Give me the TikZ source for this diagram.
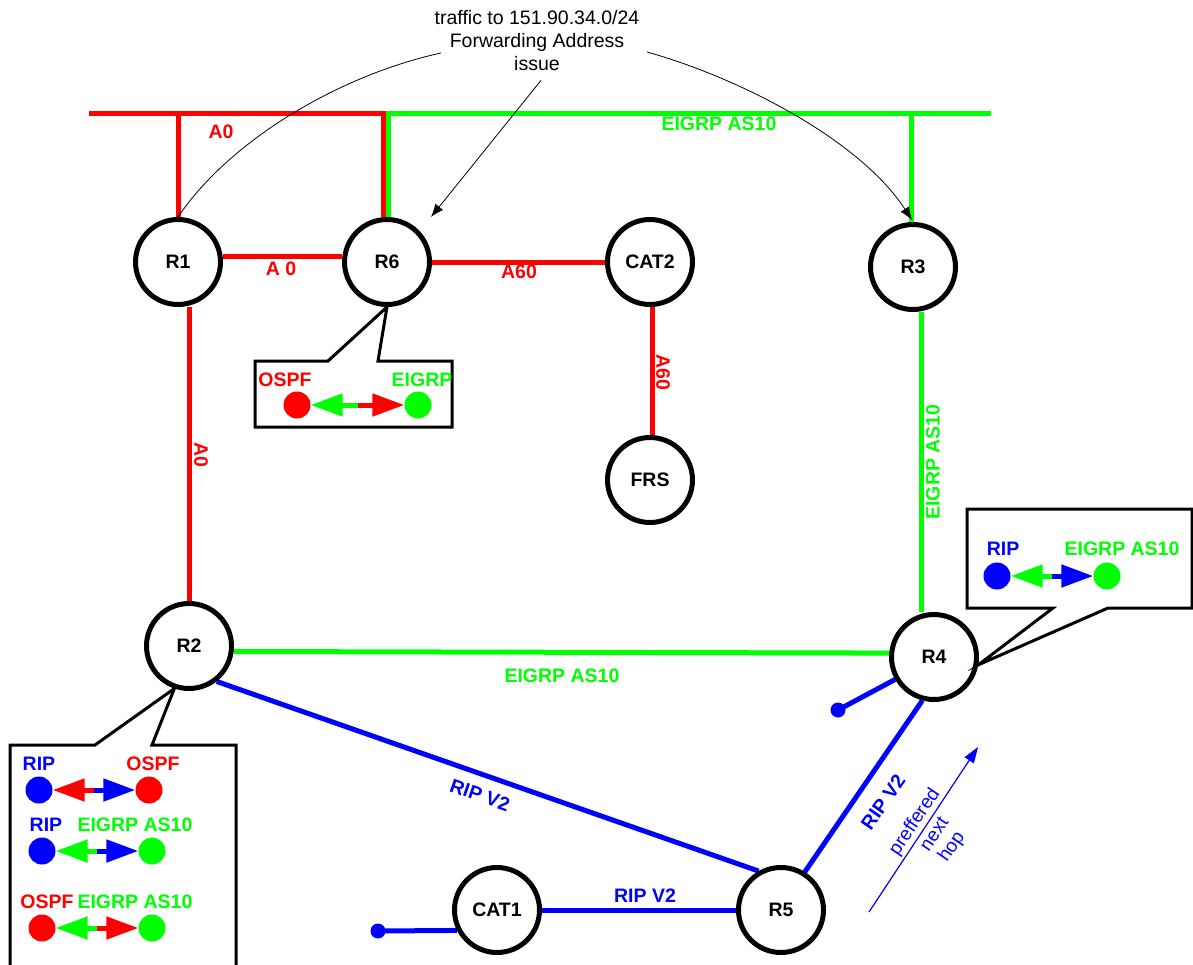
\documentclass[tikz,border=0pt]{standalone}
\usepackage{fontspec}
\setmainfont{Liberation Sans}
\usetikzlibrary{arrows.meta,calc}
\pgfdeclarelayer{background}
\pgfsetlayers{background,main}
\definecolor{cred}{RGB}{255,0,0}
\definecolor{cgreen}{RGB}{0,255,0}
\definecolor{cblue}{RGB}{0,0,255}
\newcommand\redistpair[5]{%
  \node[dotnode, fill=#4] (#1L) at #2 {};
  \node[dotnode, fill=#5] (#1R) at #3 {};
  \coordinate (#1M) at ($(#1L)!0.5!(#1R)$);
  \draw[redarr, #5] (#1M) -- (#1L);
  \draw[redarr, #4] (#1M) -- (#1R);
}
\begin{document}
\begin{tikzpicture}[x=1pt,y=-1pt,
  router/.style={circle, draw=black, line width=5pt, fill=white, minimum size=85pt, inner sep=0pt, font=\fontsize{19.5}{23}\selectfont\bfseries},
  lbl/.style={font=\fontsize{19.5}{23}\selectfont\bfseries, inner sep=0pt},
  link/.style={line width=5pt},
  dotnode/.style={circle, draw=none, minimum size=27pt, inner sep=0pt},
  stubdot/.style={circle, draw=none, fill=cblue, minimum size=15pt, inner sep=0pt},
  redarr/.style={line width=5pt, -{Triangle[length=32pt,width=22pt]}},
  callout/.style={draw=black, line width=3pt, fill=white, line join=miter},
  note/.style={black, line width=0.8pt},
  hoptext/.style={cblue, rotate=56, inner sep=0pt, font=\fontsize{19}{22.5}\selectfont},
]
\useasboundingbox (0,0) rectangle (1193,964);

% routers
\node[router] (R1) at (178,262) {R1};
\node[router] (R6) at (387,262) {R6};
\node[router] (CAT2) at (650,262) {CAT2};
\node[router] (R3) at (913,267) {R3};
\node[router] (FRS) at (650,480) {FRS};
\node[router] (R2) at (189,646) {R2};
\node[router] (R4) at (934,657) {R4};
\node[router] (CAT1) at (497,910) {CAT1};
\node[router] (R5) at (781,910) {R5};

% helper coordinates
\coordinate (busL) at (89,113);
\coordinate (busR) at (991,113);
\coordinate (r6red) at ($(R6.north)+(-3.5,0)$);
\coordinate (r6grn) at ($(R6.north)+(1.5,0)$);
\coordinate (r3top) at ($(R3.north)+(-2,0)$);
\coordinate (r3bot) at (921,0);
\coordinate (d4c) at (838,710);
\coordinate (dc1) at (378,931);
\node[stubdot] (D4) at (d4c) {};
\node[stubdot] (DC1) at (dc1) {};

\begin{pgfonlayer}{background}
  \fill[white] (0,0) rectangle (1193,964);
  % top bus
  \draw[link, cred, line join=miter] (busL) -- (busL -| r6red) -- (r6red);
  \draw[link, cgreen, line join=miter] (busR) -- (busR -| r6grn) -- (r6grn);
  \draw[link, cred] (R1.north |- busL) -- (R1.north);
  \draw[link, cgreen] (r3top |- busR) -- (r3top);
  % OSPF links
  \draw[link, cred] (R1.7) -- (R6.173);
  \draw[link, cred] (R6.east) -- (CAT2.west);
  \draw[link, cred] ($(CAT2.south)+(2,0)$) -- ($(FRS.north)+(2,0)$);
  \draw[link, cred] (R2.north) -- (R2.north |- R1.south);
  % EIGRP links
  \draw[link, cgreen] (r3bot |- R3.south) -- (r3bot |- R4.north);
  \draw[link, cgreen] (R2.-7) -- (R4.175);
  % RIP links
  \draw[link, cblue] (R2.-52) -- (R5.120);
  \draw[link, cblue] (R4.-105) -- (R5.58);
  \draw[link, cblue] (CAT1.east) -- (R5.west);
  \draw[link, cblue] (DC1.center) -- (CAT1.207);
  \draw[link, cblue] (D4.center) -- (R4.210);
\end{pgfonlayer}

% link labels
\node[lbl, text=cred] at (221,132) {A0};
\node[lbl, text=cgreen] at (719,124) {EIGRP AS10};
\node[lbl, text=cred] at (281,269) {A 0};
\node[lbl, text=cred] at (519,272) {A60};
\node[lbl, text=cred, rotate=-90] at (663,372) {A60};
\node[lbl, text=cred, rotate=-90] at (201,455) {A0};
\node[lbl, text=cgreen, rotate=90] at (933,462) {EIGRP AS10};
\node[lbl, text=cgreen] at (562,676) {EIGRP AS10};
\node[lbl, text=cblue, rotate=-19.3] at (480,795) {RIP V2};
\node[lbl, text=cblue, rotate=55] at (883,802) {RIP V2};
\node[lbl, text=cblue] at (645,896) {RIP V2};

% preferred next hop
\coordinate (nh1) at (869,912);
\coordinate (nh2) at (978,747);
\draw[cblue, line width=1.2pt, -{Triangle[length=16pt,width=11pt]}] (nh1) -- (nh2);
\node[hoptext] at (915,822) {preffered};
\node[hoptext] at (934,834) {next};
\node[hoptext] at (952,847) {hop};

% annotation
\node[align=center, inner sep=5pt, font=\fontsize{19.5}{23}\selectfont] (note) at (537,41) {traffic to 151.90.34.0/24\\Forwarding Address\\issue};
\coordinate (c1s) at (441,53);
\coordinate (c2s) at (647,52);
\coordinate (a6) at (431,217);
\draw[note] (c1s) .. controls (340,75) and (230,140) .. (R1.north);
\draw[note, -{Latex[length=13pt,width=10pt]}] (c2s) .. controls (740,78) and (860,140) .. ($(R3.north)+(-1,-2)$);
\draw[note, -{Latex[length=13pt,width=10pt]}] ($(note.south)+(4,4)$) -- (a6);

% R6 callout
\draw[callout] (R6.south) -- (378,361) -- (452,361) -- (452,427) -- (255,427) -- (255,361) -- (328,361) -- cycle;
\node[lbl, text=cred] at (285,380) {OSPF};
\node[lbl, text=cgreen] at (422,380) {EIGRP};
\redistpair{a}{(297,405)}{(418,405)}{cred}{cgreen}

% R4 callout
\draw[callout] (R4.-10) -- (1108,608) -- (1192,608) -- (1192,509) -- (967,509) -- (967,608) -- (1053,608) -- cycle;
\node[lbl, text=cblue] at (1003,549) {RIP};
\node[lbl, text=cgreen] at (1122,549) {EIGRP AS10};
\redistpair{b}{(997,576)}{(1107,576)}{cblue}{cgreen}

% R2 callout
\draw[callout] (R2.-109) -- (152,745) -- (236,745) -- (236,975) -- (10,975) -- (10,745) -- (95,745) -- cycle;
\node[lbl, text=cblue] at (39,764) {RIP};
\node[lbl, text=cred] at (153,764) {OSPF};
\redistpair{c}{(39,790)}{(149,790)}{cblue}{cred}
\node[lbl, text=cblue] at (46,825) {RIP};
\node[lbl, text=cgreen] at (135,825) {EIGRP AS10};
\redistpair{d}{(42,851)}{(152,851)}{cblue}{cgreen}
\node[lbl, text=cred] at (47,902) {OSPF};
\node[lbl, text=cgreen] at (135,902) {EIGRP AS10};
\redistpair{e}{(42,928)}{(152,928)}{cred}{cgreen}
\end{tikzpicture}
\end{document}
